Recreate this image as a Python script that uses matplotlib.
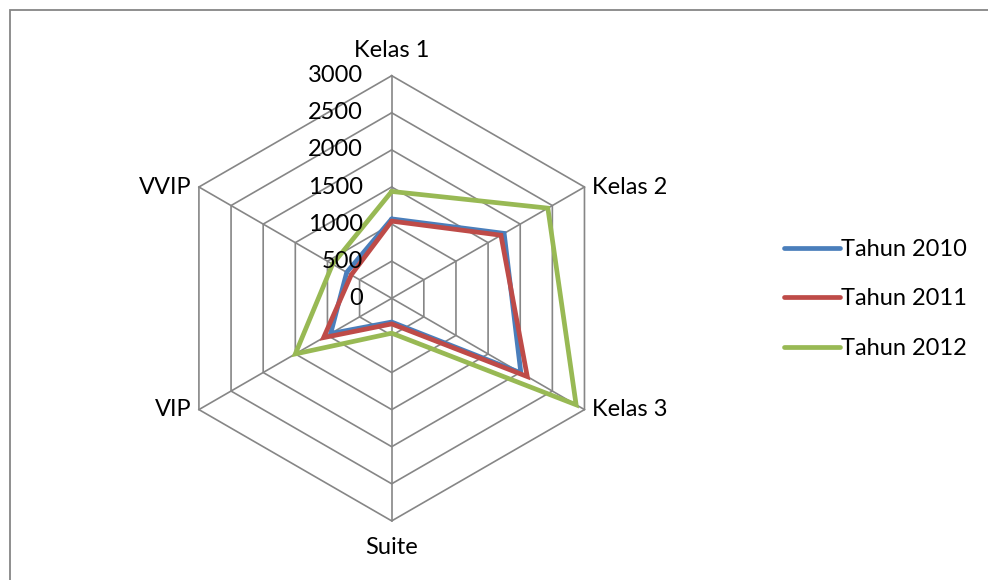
import numpy as np
import matplotlib
matplotlib.use("Agg")
import matplotlib.pyplot as plt
from matplotlib.patches import Rectangle

plt.rcParams['font.family'] = ['Lato', 'DejaVu Sans']

categories = ["Kelas 1", "Kelas 2", "Kelas 3", "Suite", "VIP", "VVIP"]
tahun_2010 = [1070, 1750, 2010, 320, 950, 700]
tahun_2011 = [1040, 1700, 2110, 345, 1060, 630]
tahun_2012 = [1440, 2430, 2870, 470, 1500, 920]
series_names = ["Tahun 2010", "Tahun 2011", "Tahun 2012"]
series_colors = ["#4A7EBB", "#BE4B48", "#98B954"]
ring_levels = [0, 500, 1000, 1500, 2000, 2500, 3000]
r_max = 3000

W, H = 988, 580
cx, cy, rad_px = 391.7, 298.3, 222.6   # centre and outer radius in pixels
upp = r_max / rad_px                    # data units per pixel

fig = plt.figure(figsize=(W / 100, H / 100), dpi=100)
ax = fig.add_axes([0, 0, 1, 1])
ax.set_xlim(-cx * upp, (W - cx) * upp)
ax.set_ylim(-(H - cy) * upp, cy * upp)
ax.axis("off")

n = len(categories)
angles = np.pi / 2 - np.arange(n) * 2 * np.pi / n
ux, uy = np.cos(angles), np.sin(angles)

grid_color = "#868686"
# hexagonal rings and spokes
for lv in ring_levels[1:]:
    ax.plot(np.append(ux, ux[0]) * lv, np.append(uy, uy[0]) * lv,
            color=grid_color, lw=1.2, zorder=1)
for x, y in zip(ux, uy):
    ax.plot([0, x * r_max], [0, y * r_max], color=grid_color, lw=1.2, zorder=1)

# data polygons
for name, vals, col in zip(series_names, [tahun_2010, tahun_2011, tahun_2012], series_colors):
    v = np.array(vals + vals[:1], dtype=float)
    a_x = np.append(ux, ux[0])
    a_y = np.append(uy, uy[0])
    ax.plot(a_x * v, a_y * v, color=col, lw=3.4, label=name,
            solid_joinstyle="miter", solid_capstyle="round", zorder=3)

fs = 17
# radial value labels along the top spoke
for lv in ring_levels:
    ax.annotate(str(lv), xy=(0, lv), xytext=(-29 * 0.72, 0), textcoords="offset points",
                ha="right", va="center", fontsize=fs, zorder=4)

# category labels just outside the outer ring
offsets = [(0, 25, "center"), (8, 0, "left"), (8, 0, "left"),
           (0, -27, "center"), (-7, 0, "right"), (-7, 0, "right")]
for lab, x, y, (dx, dy, ha) in zip(categories, ux, uy, offsets):
    ax.annotate(lab, xy=(x * r_max, y * r_max), xytext=(dx * 0.72, dy * 0.72),
                textcoords="offset points", ha=ha, va="center", fontsize=fs)

leg = ax.legend(loc="center left", bbox_to_anchor=(763 / W, 1 - 299 / H),
                bbox_transform=fig.transFigure, frameon=False, fontsize=fs,
                handlelength=2.35, handletextpad=0.05, labelspacing=1.2)
for line in leg.get_lines():
    line.set_linewidth(3.4)

# outer chart frame
fig.patches.append(Rectangle((9.5 / W, -0.1), 1.2, 1.1 - 10 / H, transform=fig.transFigure,
                             fill=False, edgecolor=grid_color, lw=1.3))

fig.savefig("out.png", dpi=100)
